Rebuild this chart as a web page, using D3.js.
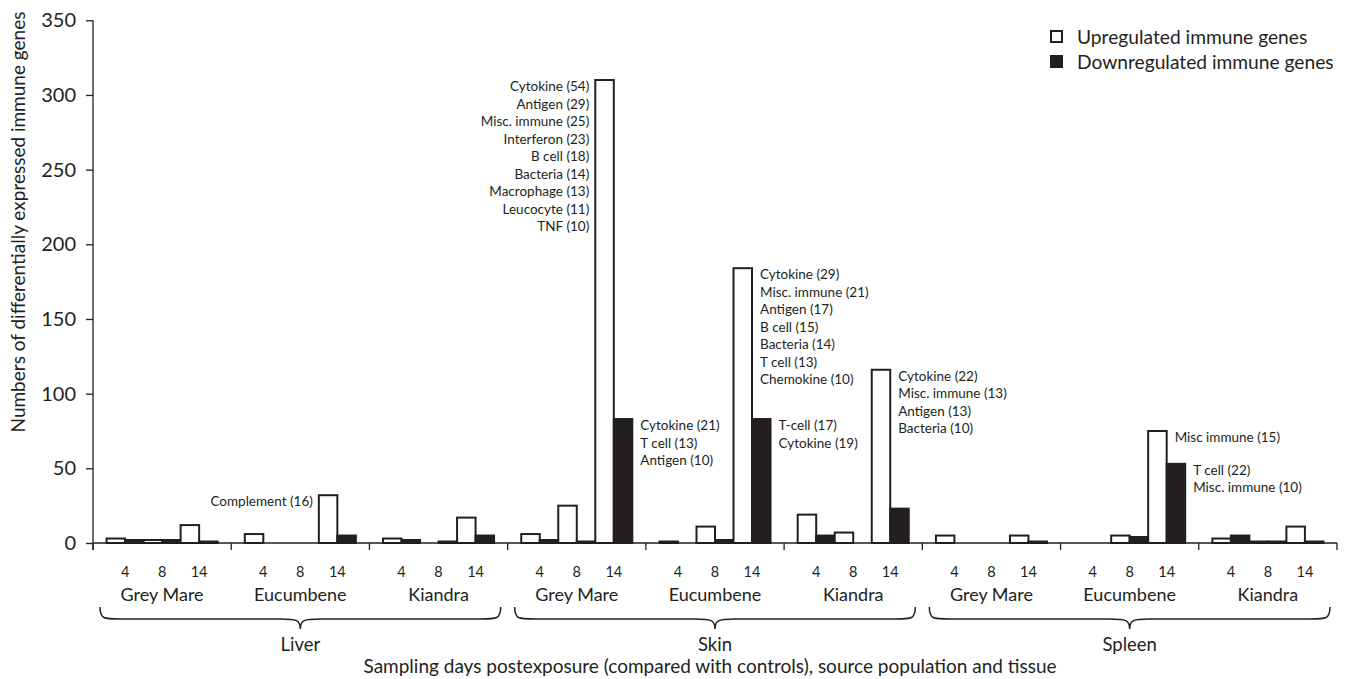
<!DOCTYPE html>
<html>
<head>
<meta charset="utf-8">
<script src="https://cdn.jsdelivr.net/npm/d3@7"></script>
<style>
  html, body { margin: 0; padding: 0; background: #fff; }
  svg { display: block; }
  text { font-family: Lato, "Open Sans", sans-serif; fill: #231f20; }
</style>
</head>
<body>
<svg id="chart" width="1347" height="679"></svg>
<script>
// Tissues, source populations and sampling days (days postexposure)
const tissues = ["Liver", "Skin", "Spleen"];
const populations = ["Grey Mare", "Eucumbene", "Kiandra"];
const days = ["4", "8", "14"];
const seriesNames = ["Upregulated immune genes", "Downregulated immune genes"];

// Counts of differentially expressed immune genes, ordered tissue > population > day
const upregulated = [
  3, 2, 12,    6, 0, 32,    3, 0, 17,     // Liver
  6, 25, 310,  1, 11, 184,  19, 7, 116,   // Skin
  5, 0, 5,     0, 5, 75,    3, 1, 11      // Spleen
];
const downregulated = [
  2, 2, 1,     0, 0, 5,     2, 1, 5,      // Liver
  2, 1, 83,    0, 2, 83,    5, 0, 23,     // Skin
  0, 0, 1,     0, 4, 53,    5, 1, 1       // Spleen
];

const yTicks = [0, 50, 100, 150, 200, 250, 300, 350];

// Gene-category breakdowns written beside individual bars
const annotations = [
  { tissue: "Liver", population: "Eucumbene", day: "14", series: "up", side: "left",
    lines: ["Complement (16)"] },
  { tissue: "Skin", population: "Grey Mare", day: "14", series: "up", side: "left",
    lines: ["Cytokine (54)", "Antigen (29)", "Misc. immune (25)", "Interferon (23)", "B cell (18)",
            "Bacteria (14)", "Macrophage (13)", "Leucocyte (11)", "TNF (10)"] },
  { tissue: "Skin", population: "Grey Mare", day: "14", series: "down", side: "right",
    lines: ["Cytokine (21)", "T cell (13)", "Antigen (10)"] },
  { tissue: "Skin", population: "Eucumbene", day: "14", series: "up", side: "right",
    lines: ["Cytokine (29)", "Misc. immune (21)", "Antigen (17)", "B cell (15)", "Bacteria (14)",
            "T cell (13)", "Chemokine (10)"] },
  { tissue: "Skin", population: "Eucumbene", day: "14", series: "down", side: "right",
    lines: ["T-cell (17)", "Cytokine (19)"] },
  { tissue: "Skin", population: "Kiandra", day: "14", series: "up", side: "right",
    lines: ["Cytokine (22)", "Misc. immune (13)", "Antigen (13)", "Bacteria (10)"] },
  { tissue: "Spleen", population: "Eucumbene", day: "14", series: "up", side: "right",
    lines: ["Misc immune (15)"] },
  { tissue: "Spleen", population: "Eucumbene", day: "14", series: "down", side: "right",
    lines: ["T cell (22)", "Misc. immune (10)"] }
];

const ink = "#231f20";
const svg = d3.select("#chart");

// Flatten into one record per bar
const groupKeys = [];
tissues.forEach(t => populations.forEach(p => groupKeys.push(t + "|" + p)));
const records = [];
groupKeys.forEach((g, gi) => {
  days.forEach((d, di) => {
    const i = gi * days.length + di;
    records.push({ group: g, day: d, series: "up", value: upregulated[i] });
    records.push({ group: g, day: d, series: "down", value: downregulated[i] });
  });
});

// Scales
const plotLeft = 93, plotRight = 1337;
const y = d3.scaleLinear().domain([0, 350]).range([543, 20.3]);
const xGroup = d3.scaleBand().domain(groupKeys).range([plotLeft, plotRight]);
const xDay = d3.scaleBand().domain(days).range([0, xGroup.bandwidth()]).paddingOuter(0.367);
const xSeries = d3.scaleBand().domain(["up", "down"]).range([0, xDay.bandwidth()]);
const xTissue = d3.scaleBand().domain(tissues).range([plotLeft, plotRight]);

const barX = r => xGroup(r.group) + xDay(r.day) + xSeries(r.series);

// Y axis
const yAxis = svg.append("g")
  .attr("transform", `translate(${plotLeft},0)`)
  .call(d3.axisLeft(y).tickValues(yTicks).tickSize(7).tickSizeOuter(0).tickPadding(10));
yAxis.select(".domain").remove();
yAxis.selectAll(".tick line").attr("stroke", ink).attr("stroke-width", 1.3);
yAxis.selectAll(".tick text")
  .attr("fill", ink).style("font-family", "Lato, sans-serif").style("font-size", "20px");
svg.append("line")
  .attr("x1", plotLeft).attr("x2", plotLeft)
  .attr("y1", y(350)).attr("y2", y(0) + 7)
  .attr("stroke", ink).attr("stroke-width", 1.3);

// Bars
svg.append("g").selectAll("rect")
  .data(records.filter(r => r.value > 0))
  .join("rect")
  .attr("x", barX)
  .attr("width", xSeries.bandwidth())
  .attr("y", r => y(r.value))
  .attr("height", r => y(0) - y(r.value))
  .attr("fill", r => r.series === "up" ? "#fff" : ink)
  .attr("stroke", ink)
  .attr("stroke-width", 2);

// X baseline with separators between population groups
svg.append("line")
  .attr("x1", plotLeft).attr("x2", plotRight)
  .attr("y1", y(0)).attr("y2", y(0))
  .attr("stroke", ink).attr("stroke-width", 1.3);
const sepPositions = groupKeys.map(g => xGroup(g)).concat([plotRight]);
svg.append("g").selectAll("line")
  .data(sepPositions)
  .join("line")
  .attr("x1", d => d).attr("x2", d => d)
  .attr("y1", y(0)).attr("y2", y(0) + 7)
  .attr("stroke", ink).attr("stroke-width", 1.3);

// Day labels
const dayLabels = [];
groupKeys.forEach(g => days.forEach(d => dayLabels.push({ group: g, day: d })));
svg.append("g").selectAll("text")
  .data(dayLabels)
  .join("text")
  .attr("x", d => xGroup(d.group) + xDay(d.day) + xDay.bandwidth() / 2)
  .attr("y", 577)
  .attr("text-anchor", "middle")
  .style("font-size", "14.5px")
  .text(d => d.day);

// Population labels
svg.append("g").selectAll("text")
  .data(groupKeys)
  .join("text")
  .attr("x", g => xGroup(g) + xGroup.bandwidth() / 2)
  .attr("y", 601)
  .attr("text-anchor", "middle")
  .style("font-size", "18px")
  .text(g => g.split("|")[1]);

// Curly braces grouping populations under each tissue
function bracePath(x0, x1, yTop, yMid, yTip) {
  const xc = (x0 + x1) / 2;
  const r = 20;
  return `M${x0},${yTop}` +
    ` C${x0},${yMid} ${x0 + 4},${yMid} ${x0 + r},${yMid}` +
    ` L${xc - r},${yMid}` +
    ` C${xc - 4},${yMid} ${xc},${yMid + 1} ${xc},${yTip}` +
    ` C${xc},${yMid + 1} ${xc + 4},${yMid} ${xc + r},${yMid}` +
    ` L${x1 - r},${yMid}` +
    ` C${x1 - 4},${yMid} ${x1},${yMid} ${x1},${yTop}`;
}
svg.append("g").selectAll("path")
  .data(tissues)
  .join("path")
  .attr("d", t => bracePath(xTissue(t) + 7, xTissue(t) + xTissue.bandwidth() - 7, 607, 619, 629))
  .attr("fill", "none")
  .attr("stroke", ink)
  .attr("stroke-width", 1.5);

// Tissue labels
svg.append("g").selectAll("text")
  .data(tissues)
  .join("text")
  .attr("x", t => xTissue(t) + xTissue.bandwidth() / 2)
  .attr("y", 651)
  .attr("text-anchor", "middle")
  .style("font-size", "18.5px")
  .text(t => t);

// Axis titles
svg.append("text")
  .attr("x", 710).attr("y", 673)
  .attr("text-anchor", "middle")
  .style("font-size", "19px")
  .text("Sampling days postexposure (compared with controls), source population and tissue");
svg.append("text")
  .attr("transform", "translate(25,222) rotate(-90)")
  .attr("text-anchor", "middle")
  .style("font-size", "19px")
  .text("Numbers of differentially expressed immune genes");

// Category annotations
const lineGap = 17.5;
annotations.forEach(a => {
  const gi = groupKeys.indexOf(a.tissue + "|" + a.population);
  const di = days.indexOf(a.day);
  const i = gi * days.length + di;
  const value = a.series === "up" ? upregulated[i] : downregulated[i];
  const bx = xGroup(groupKeys[gi]) + xDay(a.day) + xSeries(a.series);
  const tx = a.side === "left" ? bx - 6 : bx + xSeries.bandwidth() + 8;
  svg.append("g").selectAll("text")
    .data(a.lines)
    .join("text")
    .attr("x", tx)
    .attr("y", (d, k) => y(value) + 11 + k * lineGap)
    .attr("text-anchor", a.side === "left" ? "end" : "start")
    .style("font-size", "13.5px")
    .text(d => d);
});

// Legend
const legend = svg.append("g").selectAll("g")
  .data(seriesNames)
  .join("g")
  .attr("transform", (d, k) => `translate(1051,${31 + k * 25})`);
legend.append("rect")
  .attr("width", 11).attr("height", 11)
  .attr("fill", (d, k) => k === 0 ? "#fff" : ink)
  .attr("stroke", ink).attr("stroke-width", 2);
legend.append("text")
  .attr("x", 26).attr("y", 12.5)
  .style("font-size", "19.2px")
  .text(d => d);
</script>
</body>
</html>
